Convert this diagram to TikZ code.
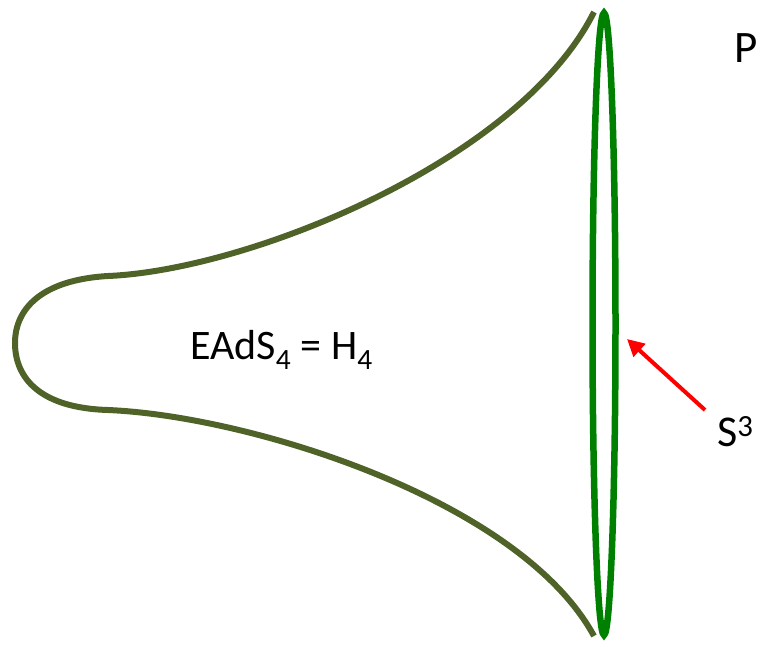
\documentclass[tikz,border=0pt]{standalone}
\usepackage{fontspec}
\setmainfont{Carlito}
\usetikzlibrary{arrows.meta,positioning}
\definecolor{hyOlive}{HTML}{4F6228}
\definecolor{hyRim}  {HTML}{008000}
\definecolor{hyArrow}{HTML}{FF0000}

\begin{document}
\begin{tikzpicture}[x=1pt,y=-1pt,
    horn/.style={draw=hyOlive,line width=6pt},
    rim/.style={draw=hyRim,line width=6.5pt},
    pointer/.style={draw=hyArrow,line width=4pt,-{Triangle[length=17pt,width=17pt]}},
    lbl/.style={inner sep=0pt,anchor=base west}]
  \useasboundingbox (0,0) rectangle (758,651);
  % horn-shaped region
  \draw[horn] (594,12) .. controls (520,160) and (250,270) .. (108,276)
      .. controls (40,280) and (15,310) .. (15,343)
      .. controls (15,378) and (40,408) .. (108,410)
      .. controls (250,416) and (520,500) .. (594,636);
  % boundary sphere
  \draw[rim] (604,324) ellipse (11.5 and 311);
  % labels
  \node[lbl,font=\fontsize{42}{46}\selectfont] (bulk) at (190,359) {EAdS\textsubscript{4} = H\textsubscript{4}};
  \node[lbl,font=\fontsize{44}{48}\selectfont] (sphere) at (717,446) {S\textsuperscript{3}};
  \node[lbl,font=\fontsize{45}{50}\selectfont] (title) at (734,62) {P};
  \coordinate (tail) at (705,410);
  \coordinate (tip) at (627,339);
  \draw[pointer] (tail) -- (tip);
\end{tikzpicture}
\end{document}
